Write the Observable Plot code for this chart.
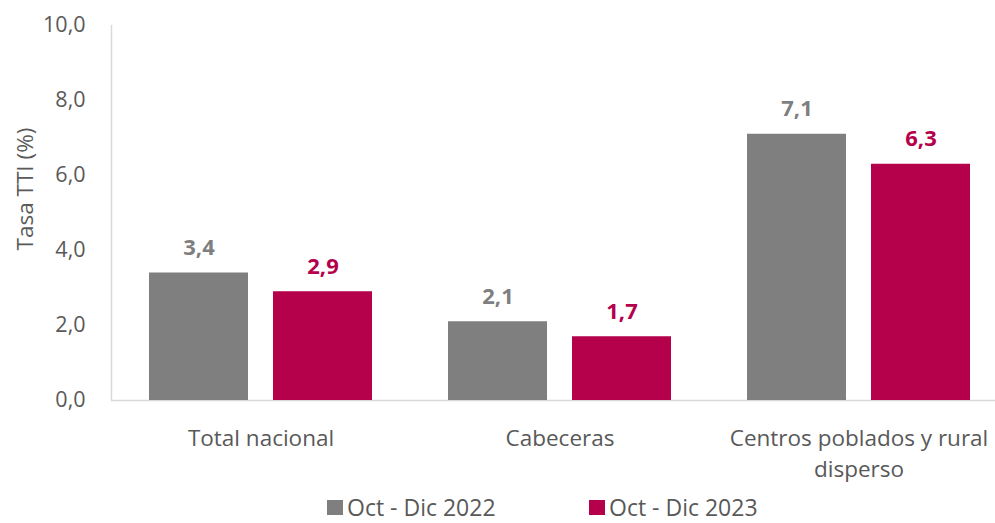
<!DOCTYPE html>
<html>
<head>
<meta charset="utf-8">
<script src="https://cdn.jsdelivr.net/npm/d3@7"></script>
<script src="https://cdn.jsdelivr.net/npm/@observablehq/plot@0.6"></script>
<style>
  body { margin: 0; background: #fff; font-family: "Open Sans", sans-serif; overflow: hidden; }
  #legend { position: relative; height: 33px; width: 995px; color: #595959; font-size: 23px; }
  .item { position: absolute; top: 5px; display: flex; align-items: center; height: 24px; white-space: nowrap; }
  .item span { line-height: 24px; }
  .sw { width: 16px; height: 15px; margin-right: 4px; }
</style>
</head>
<body>
<div id="chart"></div>
<div id="legend"></div>
<script>
const categories = ["Total nacional", "Cabeceras", "Centros poblados y rural disperso"];
const categoryLabels = ["Total nacional", "Cabeceras", "Centros poblados y rural\ndisperso"];
const series = ["Oct - Dic 2022", "Oct - Dic 2023"];
const values2022 = [3.4, 2.1, 7.1];
const values2023 = [2.9, 1.7, 6.3];
const colors = ["#7f7f7f", "#b5004b"];
const yTicks = [0, 2, 4, 6, 8, 10];
const yLabel = "Tasa TTI (%)";

const data = [];
categories.forEach((c, i) => {
  data.push({cat: c, series: series[0], value: values2022[i]});
  data.push({cat: c, series: series[1], value: values2023[i]});
});
const fmt = v => v.toFixed(1).replace(".", ",");
const catLabel = c => categoryLabels[categories.indexOf(c)];

const plot = Plot.plot({
  width: 995,
  height: 490,
  marginTop: 25,
  marginBottom: 90,
  marginLeft: 111,
  marginRight: 0,
  style: {fontFamily: "'Open Sans', sans-serif", color: "#595959", background: "#fff"},
  fx: {domain: categories, range: [111, 1008], paddingInner: 0, paddingOuter: 0},
  x: {domain: series, paddingInner: 0.2, paddingOuter: 0.3, axis: null},
  y: {domain: [0, 10]},
  color: {domain: series, range: colors},
  marks: [
    Plot.ruleY([0], {stroke: "#d9d9d9", strokeWidth: 1.5}),
    Plot.frame({anchor: "left", stroke: "#d9d9d9", strokeWidth: 1.5, facet: "super"}),
    Plot.barY(data, {fx: "cat", x: "series", y: "value", fill: "series"}),
    Plot.text(data, {fx: "cat", x: "series", y: "value", text: d => fmt(d.value), fill: "series",
      dy: -25, fontSize: 22, fontWeight: "bold"}),
    Plot.axisY({ticks: yTicks, tickFormat: fmt, tickSize: 0, tickPadding: 26, fontSize: 21.5, label: null}),
    Plot.axisFx({anchor: "bottom", tickSize: 0, tickPadding: 23, fontSize: 22.5, lineHeight: 1.4,
      tickFormat: catLabel, label: null}),
    Plot.text([yLabel], {frameAnchor: "left", textAnchor: "middle", rotate: -90, dx: -86, dy: -24,
      fontSize: 22.5, fill: "#595959", facet: "super"})
  ]
});
document.getElementById("chart").appendChild(plot);

const legend = document.getElementById("legend");
const lefts = [327, 589];
series.forEach((s, i) => {
  const item = document.createElement("div");
  item.className = "item";
  item.style.left = lefts[i] + "px";
  const sw = document.createElement("div");
  sw.className = "sw";
  sw.style.background = colors[i];
  const t = document.createElement("span");
  t.textContent = s;
  item.appendChild(sw);
  item.appendChild(t);
  legend.appendChild(item);
});
</script>
</body>
</html>
